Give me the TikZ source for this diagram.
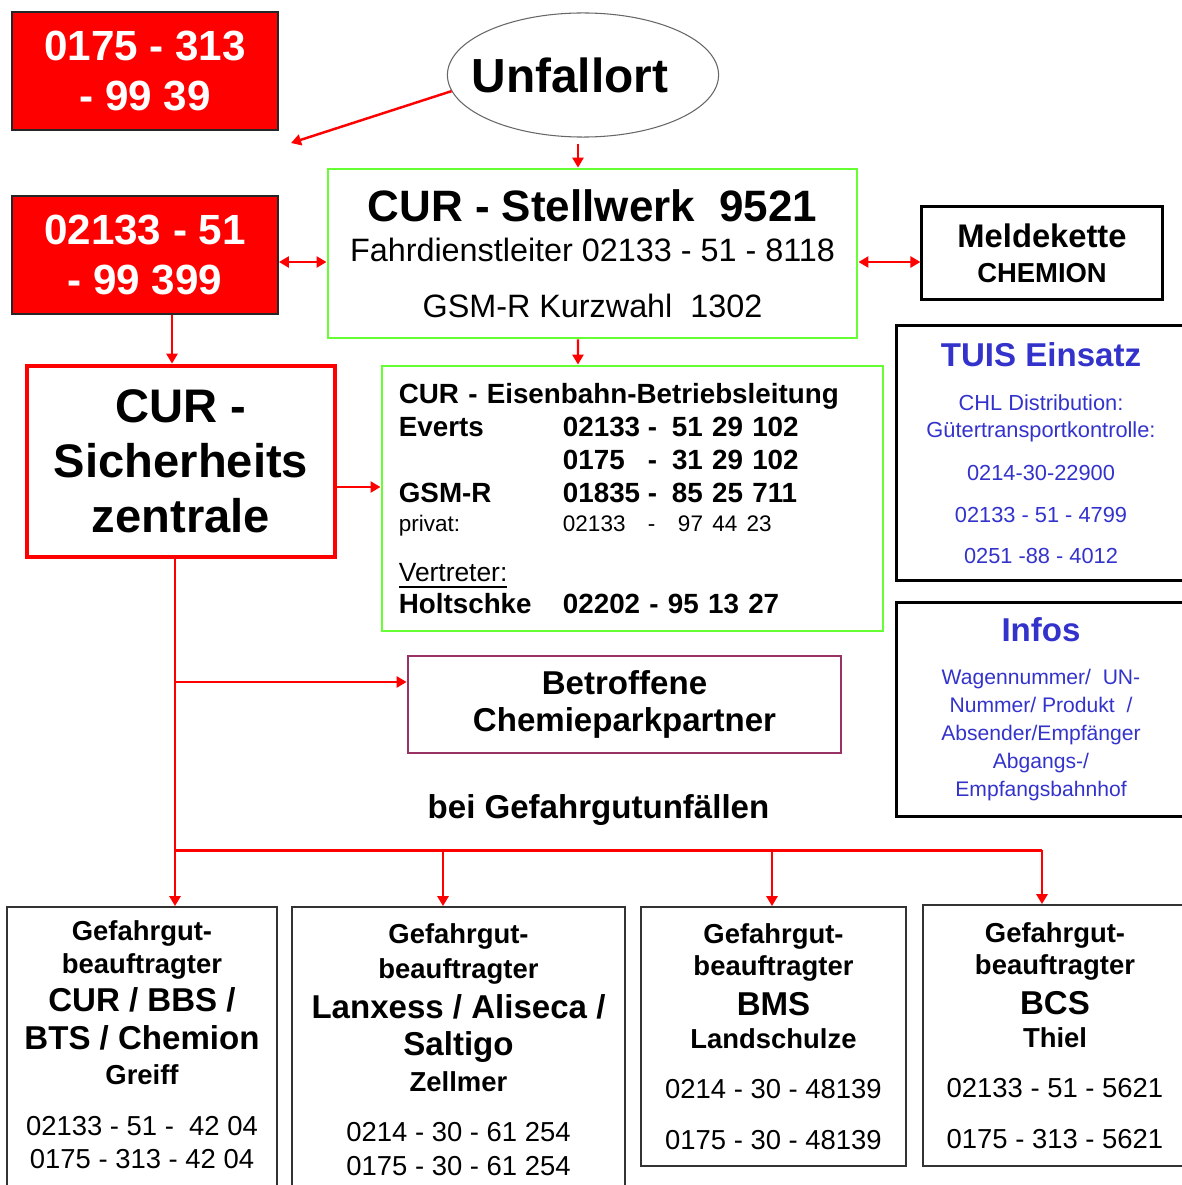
\documentclass[tikz,border=0pt]{standalone}
\usepackage{fontspec}
\setmainfont{Liberation Sans}
\usetikzlibrary{arrows.meta,shapes.geometric}
\definecolor{grn}{RGB}{102,255,51}
\definecolor{lila}{RGB}{153,51,102}
\definecolor{tuisblue}{RGB}{51,51,204}
\newcommand{\fs}[2]{\fontsize{#1}{#2}\selectfont}
\newcommand{\nr}[1]{{\mdseries #1}}
\newcommand{\ebl}[3]{\makebox[1.64cm][l]{#1}\makebox[0.85cm][l]{#2}\makebox[0.24cm][l]{-}#3}
\tikzset{
  box/.style={draw, align=center, inner sep=0pt},
  redbox/.style={box, draw=black!85, line width=0.5pt, fill=red, text=white, font=\bfseries\fs{12}{14.2}},
  grnbox/.style={box, draw=grn, line width=0.75pt},
  blkbox/.style={box, line width=0.85pt},
  gbox/.style={box, draw=black!80, line width=0.45pt, font=\bfseries\fs{7.8}{9.3}},
  arr/.style={red, line width=0.7pt, >={Triangle[length=0.1cm,width=0.11cm]}, ->},
  darr/.style={arr, <->},
  trunk/.style={red, line width=0.85pt}
}
\begin{document}
\begin{tikzpicture}[x=0.01cm, y=-0.01cm]
\useasboundingbox (0,0) rectangle (1182,1185);

\node[redbox, minimum width=2.66cm, minimum height=1.18cm] (rb1) at (145,71) {0175 - 313\\- 99 39};
\node[draw=black!60, line width=0.3pt, ellipse, minimum width=2.71cm, minimum height=1.24cm, inner sep=0pt, font=\bfseries\fs{13.6}{16}] (unf) at (583,75) {\hspace{-0.26cm}Unfallort};
\node[redbox, minimum width=2.66cm, minimum height=1.18cm] (rb2) at (145,255) {02133 - 51\\- 99 399};
\node[grnbox, minimum width=5.29cm, minimum height=1.69cm, font=\fs{9.2}{11.4}] (stw) at (592.5,253.5) {{\bfseries\fs{12.5}{14}CUR - Stellwerk\ \ 9521}\\Fahrdienstleiter 02133 - 51 - 8118\\[4.5pt]GSM-R Kurzwahl\ \ 1302};
\node[blkbox, minimum width=2.4cm, minimum height=0.92cm, font=\bfseries\fs{7.8}{10}] (mk) at (1042,253) {{\fs{9.3}{10}Meldekette}\\CHEMION};

\node[box, draw=red, line width=1.3pt, minimum width=3.08cm, minimum height=1.91cm, font=\bfseries\fs{13.4}{15.6}] (sz) at (181,461.5) {CUR -\\Sicherheits\\zentrale};
\node[grnbox, align=left, text width=4.67cm, minimum height=2.65cm, inner xsep=0.17cm, font=\bfseries\fs{7.9}{9.4}] (ebl) at (632.5,498.5) {CUR - Eisenbahn-Betriebsleitung\\ \ebl{Everts}{02133}{51 29 102}\\ \ebl{}{0175}{31 29 102}\\ \ebl{GSM-R}{01835}{85 25 711}\\[-1pt] {\mdseries\fs{6.4}{7}\ebl{privat:}{02133}{\hspace{0.06cm}97 44 23}}\\[4.8pt] {\mdseries\fs{7.5}{9}\underline{Vertreter:}}\\[-0.4pt] \makebox[1.64cm][l]{Holtschke}02202 - 95 13 27};
\node[blkbox, minimum width=2.88cm, minimum height=2.54cm, text=tuisblue, font=\fs{6.2}{7.9}] (tuis) at (1041,453) {{\bfseries\fs{9.4}{11}TUIS Einsatz}\\[4.6pt]CHL Distribution:\\Gütertransportkontrolle:\\[4.1pt]0214-30-22900\\[4pt]02133 - 51 - 4799\\[3.9pt]0251 -88 - 4012};
\node[blkbox, minimum width=2.88cm, minimum height=2.13cm, text=tuisblue, font=\fs{6}{8}] (info) at (1041,709.5) {{\bfseries\fs{9.4}{11}Infos}\\[4pt]Wagennummer/\ \ UN-\\Nummer/ Produkt\ \ /\\Absender/Empfänger\\Abgangs-/\\Empfangsbahnhof};
\node[box, draw=lila, line width=0.7pt, minimum width=4.33cm, minimum height=0.97cm, font=\bfseries\fs{9.4}{10.5}] (bcp) at (624.5,704.5) {Betroffene\\Chemieparkpartner};
\node[anchor=base, font=\bfseries\fs{9.4}{11}] (gfu) at (598.5,818) {bei Gefahrgutunfällen};

\node[gbox, minimum width=2.7cm, minimum height=2.93cm] (gb1) at (142,1053.5) {Gefahrgut-\\beauftragter\\[1.6pt]{\fs{9.4}{11}CUR / BBS /}\\[1.6pt]{\fs{9.4}{11}BTS / Chemion}\\[0.7pt]Greiff\\[5.2pt]\nr{02133 - 51 -\ \ 42 04}\\\nr{0175 - 313 - 42 04}\rule[-0.18cm]{0pt}{0pt}};
\node[gbox, minimum width=3.33cm, minimum height=2.93cm] (gb2) at (458.5,1053.5) {Gefahrgut-\\[0.7pt]beauftragter\\[2.1pt]{\fs{9.4}{11}Lanxess / Aliseca /}\\[1.1pt]{\fs{9.4}{11}Saltigo}\\[1.1pt]Zellmer\\[4.9pt]\nr{0214 - 30 - 61 254}\\[0.2pt]\nr{0175 - 30 - 61 254}\rule[-0.08cm]{0pt}{0pt}};
\node[gbox, minimum width=2.65cm, minimum height=2.59cm] (gb3) at (773.5,1036.5) {Gefahrgut-\\beauftragter\\[1.8pt]{\fs{9.4}{11}BMS}\\[0.2pt]Landschulze\\[4.9pt]\nr{0214 - 30 - 48139}\\[5.2pt]\nr{0175 - 30 - 48139}};
\node[gbox, minimum width=2.64cm, minimum height=2.61cm] (gb4) at (1055,1035.5) {Gefahrgut-\\beauftragter\\[1.8pt]{\fs{9.4}{11}BCS}\\[0.2pt]Thiel\\[4.9pt]\nr{02133 - 51 - 5621}\\[5.2pt]\nr{0175 - 313 - 5621}};

\coordinate (a0) at (291,143);
\draw[arr] (unf.187) -- (a0);
\draw[arr] ([xshift=-0.145cm,yshift=0.24cm]stw.north) -- ([xshift=-0.145cm]stw.north);
\coordinate (d1) at ([yshift=-0.07cm]rb2.east);
\draw[darr] (d1) -- (d1 -| stw.west);
\coordinate (d2) at ([yshift=-0.085cm]stw.east);
\draw[darr] (d2) -- (d2 -| mk.west);
\draw[arr] ([xshift=-0.145cm]stw.south) -- ([xshift=-0.545cm]ebl.north);
\coordinate (d3) at ([xshift=0.27cm]rb2.south);
\draw[arr] (d3) -- (d3 |- sz.north);
\coordinate (d4) at ([yshift=-0.255cm]sz.east);
\draw[arr] (d4) -- (d4 -| ebl.west);

\coordinate (t0) at ([xshift=-0.06cm]sz.south);
\draw[arr, trunk] (t0) -- (t0 |- gb1.north);
\coordinate (d5) at ([yshift=0.225cm]bcp.west);
\draw[arr] (d5 -| t0) -- (d5);
\coordinate (bus) at (175,850);
\coordinate (e4) at ([xshift=-0.13cm]gb4.north);
\draw[trunk] (bus) -- (bus -| e4);
\foreach \n/\dx in {gb2/-0.155,gb3/-0.015,gb4/-0.13}{
  \coordinate (e) at ([xshift=\dx cm]\n.north);
  \draw[arr] (e |- bus) -- (e);
}
\end{tikzpicture}
\end{document}
